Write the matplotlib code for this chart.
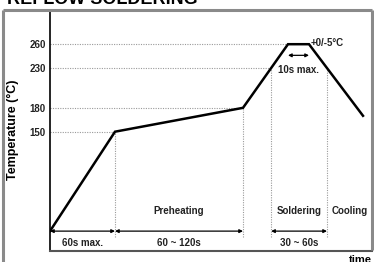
import matplotlib
matplotlib.use("Agg")
import matplotlib.pyplot as plt
import numpy as np
from matplotlib.lines import Line2D

plt.rcParams['font.family'] = ['Liberation Sans', 'DejaVu Sans']

# reflow profile (time in arbitrary units, temp in degC)
time_pts = [0, 65, 193, 238, 259, 313]
temp_pts = [25, 150, 180, 260, 260, 170]
level_ticks = [150, 180, 230, 260]
zone_names = ["Preheating", "Soldering", "Cooling"]
span_labels = ["60s max.", "60 ~ 120s", "30 ~ 60s"]
peak_label = "10s max."
tol_label = "+0/-5\u00b0C"

W, H = 374, 262
fig = plt.figure(figsize=(W / 100, H / 100), dpi=100)
ax = fig.add_axes([50 / W, 11 / H, 322 / W, 241 / H])
ax.set_xlim(0, 322)
ax.set_ylim(0, 303)

rise_230 = np.interp(230, temp_pts[2:4], time_pts[2:4])
fall_230 = np.interp(230, temp_pts[5:3:-1], time_pts[5:3:-1])

dot = dict(color='#9a9a9a', lw=0.8, linestyle=(0, (1, 1.2)))
# horizontal guides from the axis to the curve
ax.hlines([260, 230, 180, 150], 0, [time_pts[3], rise_230, time_pts[2], time_pts[1]], **dot)
# vertical guides down to the arrows
ax.vlines([time_pts[1], time_pts[2]], 18, [temp_pts[1], temp_pts[2]], **dot)
ax.vlines([rise_230, fall_230], 18, 230, **dot)

ax.plot(time_pts, temp_pts, color='black', lw=1.8, solid_joinstyle='miter')

arrow = dict(arrowstyle='<|-|>', color='black', lw=0.9, mutation_scale=5,
             shrinkA=0, shrinkB=0)
spans = [(time_pts[0], time_pts[1]), (time_pts[1], time_pts[2]), (rise_230, fall_230)]
for (a, b), lab in zip(spans, span_labels):
    ax.annotate('', xy=(b, 25), xytext=(a, 25), arrowprops=arrow)
    ax.text((a + b) / 2, 10, lab, ha='center', va='center', fontsize=7, weight='bold',
            color='#222222')

zone_x = [(time_pts[1] + time_pts[2]) / 2, (rise_230 + fall_230) / 2, (fall_230 + 322) / 2]
for x, name in zip(zone_x, zone_names):
    ax.text(x, 50, name, ha='center', va='center', fontsize=7, weight='bold', color='#222222')

ax.annotate('', xy=(time_pts[4], 246), xytext=(time_pts[3], 246), arrowprops=arrow)
ax.text((time_pts[3] + time_pts[4]) / 2, 227, peak_label, ha='center', va='center',
        fontsize=7, weight='bold', color='#222222')
ax.text(time_pts[4] + 2, 261, tol_label, ha='left', va='center', fontsize=7, weight='bold',
        color='#222222')

ax.set_yticks(level_ticks)
ax.set_yticklabels([str(v) for v in level_ticks], fontsize=7, weight='bold', color='#222222')
ax.set_xticks([])
ax.tick_params(axis='y', length=0, pad=3)
for s in ['top', 'right']:
    ax.spines[s].set_visible(False)
ax.spines['left'].set_color('black')
ax.spines['left'].set_linewidth(1.2)
ax.spines['bottom'].set_color('#555555')
ax.spines['bottom'].set_linewidth(1.5)

# gray outer frame
frame = dict(color='#8a8a8a', lw=2.2, transform=fig.transFigure, solid_capstyle='butt')
fig.add_artist(Line2D([3 / W, 3 / W], [0, 1 - 10 / H], **frame))
fig.add_artist(Line2D([3 / W, 372 / W], [1 - 10 / H, 1 - 10 / H], **frame))
fig.add_artist(Line2D([372 / W, 372 / W], [1 - 10 / H, 1 - 250 / H], **frame))

fig.text(7 / W, 1 - 4 / H, "REFLOW SOLDERING", fontsize=13, weight='bold', va='baseline')
fig.text(372 / W, 1 - 255 / H, "time", fontsize=8, weight='bold', ha='right', va='top')
fig.text(13 / W, 1 - 130 / H, "Temperature (\u00b0C)", rotation=90, ha='center', va='center',
         fontsize=9, weight='bold')

fig.savefig('out.png', dpi=100)
